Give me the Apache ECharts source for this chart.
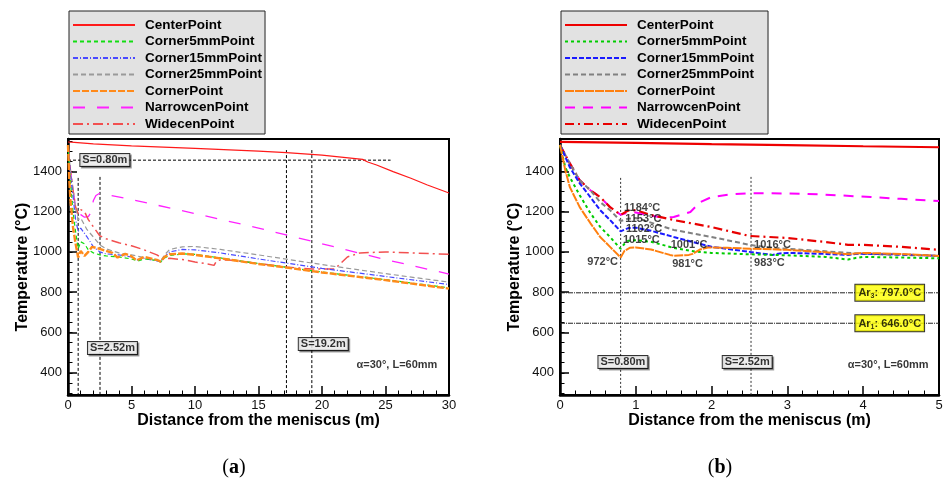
<!DOCTYPE html>
<html><head><meta charset="utf-8">
<script src="https://cdn.jsdelivr.net/npm/echarts@6/dist/echarts.min.js"></script>
<style>
html,body{margin:0;padding:0;background:#fff;}
#wrap{position:relative;width:947px;height:481px;}
.ch{position:absolute;left:0;top:0;width:947px;height:481px;}
</style></head>
<body><div id="wrap"><div id="ca" class="ch"></div><div id="cb" class="ch"></div></div>
<script>
// ---------- DATA: panel (a), 0-30 m ----------
const legendNames = ['CenterPoint','Corner5mmPoint','Corner15mmPoint','Corner25mmPoint','CornerPoint','NarrowcenPoint','WidecenPoint'];
const yTickLabels = [400,600,800,1000,1200,1400];
const yMinorTicks = [300,350,400,450,500,550,600,650,700,750,800,850,900,950,1000,1050,1100,1150,1200,1250,1300,1350,1400,1450,1500,1550];

const aCenterX = [0,0.5,2,5,10,15,17.2,20,23.2,23.6,24.3,25.6,27,28.3,30];
const aCenterY = [1545,1543,1536,1526,1513,1500,1492,1480,1459,1446,1431,1398,1365,1332,1292];
const aC5X = [0,0.1,0.2,0.4,0.6,0.8,1.0,1.3,1.6,2,2.5,3,4,5,5.5,6,7,7.3,7.6,8,9,10,12,15,20,25,30];
const aC5Y = [1530,1420,1340,1195,1100,1015,1050,1040,1010,995,985,980,975,965,955,965,958,950,970,982,990,988,970,942,900,862,822];
const aC15X = [0,0.2,0.4,0.6,0.8,1.0,1.5,2,2.5,3,4,5,5.5,6,7,7.3,7.6,8,9,10,12,15,20,25,30];
const aC15Y = [1530,1380,1272,1160,1102,1118,1074,1025,1000,990,985,975,960,968,955,950,975,1000,1012,1010,995,965,918,878,838];
const aC25X = [0,0.2,0.4,0.6,0.8,1.0,1.5,2,2.5,3,4,5,6,7,7.3,7.6,8,9,10,12,15,20,25,30];
const aC25Y = [1530,1400,1306,1215,1160,1168,1110,1074,1035,1015,995,985,972,960,955,985,1012,1025,1027,1012,985,937,892,850];
const aCornerX = [0,0.1,0.2,0.4,0.6,0.8,0.9,1.0,1.3,1.6,1.9,2.5,3,3.5,3.9,4.5,5,5.4,6,6.5,7,7.3,7.6,8,9,10,12,15,17.2,20,25,30];
const aCornerY = [1530,1360,1250,1120,1040,972,990,1005,980,1000,1025,1015,1005,995,972,990,978,958,975,968,960,952,975,988,992,985,968,940,922,898,860,818];
const aNarrowX = [0,0.2,0.4,0.6,0.8,1.0,1.3,1.6,1.8,2.0,2.2,2.5,5,10,15,20,25,30];
const aNarrowY = [1530,1400,1306,1222,1190,1185,1172,1175,1195,1255,1280,1291,1260,1190,1118,1040,962,890];
const aWideX = [0,0.2,0.4,0.6,0.8,1.0,1.3,1.6,2,2.5,3,4,5,6,7,7.5,8,9,10,11,11.5,11.7,12,13,15,17.2,19.2,21,21.5,22,23,25,27,30];
const aWideY = [1530,1400,1306,1222,1190,1210,1200,1160,1124,1080,1065,1045,1030,1010,985,965,968,962,950,940,933,955,960,958,942,925,915,915,945,975,995,1000,995,988];

const aVLinesX = [0.8, 2.52, 17.2, 19.2];
const aVLinesTop = [1367, 1372, 1505, 1505];
const aHLineY = 1455, aHLineEnd = 25.4;
const aNotes = [[2.9,1456,'S=0.80m'],[3.5,523,'S=2.52m'],[20.1,543,'S=19.2m']];
const aAlpha = [25.9, 439, 'α=30°, L=60mm'];

// ---------- DATA: panel (b), 0-5 m ----------
const bCenterX = [0,1,2,3,4,5];
const bCenterY = [1546,1541,1535,1530,1524,1519];
const bC5X = [0,0.07,0.13,0.26,0.4,0.53,0.66,0.8,0.85,0.9,1.0,1.2,1.5,1.8,2.0,2.5,3,3.5,3.8,3.9,4,4.5,5];
const bC5Y = [1530,1420,1370,1281,1193,1124,1074,1015,1040,1055,1058,1050,1020,1001,995,988,983,975,962,970,975,972,968];
const bC15X = [0,0.13,0.26,0.4,0.53,0.66,0.8,0.9,1.0,1.2,1.5,1.8,2.0,2.5,2.8,2.9,3,3.5,3.8,3.9,4,4.5,5];
const bC15Y = [1530,1420,1340,1272,1207,1158,1102,1118,1120,1105,1074,1044,1025,1000,985,992,995,990,985,990,991,987,980];
const bC25X = [0,0.13,0.26,0.4,0.53,0.66,0.8,0.9,1.0,1.2,1.5,2.0,2.5,2.8,3,3.5,4,4.5,5];
const bC25Y = [1530,1439,1355,1306,1247,1207,1153,1165,1168,1145,1109,1074,1035,1020,1015,1003,990,985,980];
const bCornerX = [0,0.07,0.13,0.26,0.4,0.53,0.66,0.8,0.85,0.92,1.0,1.2,1.45,1.5,1.7,1.75,1.85,1.95,2.2,2.52,3,3.5,3.8,3.9,4,4.5,5];
const bCornerY = [1530,1405,1321,1222,1143,1074,1025,972,1005,1020,1022,1012,985,981,985,990,1012,1022,1020,1016,1010,998,988,992,995,990,980];
const bNarrowX = [0,0.13,0.26,0.4,0.53,0.66,0.8,0.9,1.0,1.2,1.35,1.5,1.72,1.85,2.0,2.27,2.5,3,3.4,4.1,4.5,5];
const bNarrowY = [1530,1439,1355,1306,1272,1222,1184,1195,1195,1180,1170,1173,1198,1247,1272,1286,1291,1290,1286,1272,1263,1252];
const bWideX = [0,0.13,0.26,0.4,0.53,0.66,0.8,0.9,1.0,1.2,1.5,2.0,2.5,3,3.5,3.8,4.0,4.5,5];
const bWideY = [1530,1439,1355,1306,1272,1222,1184,1205,1207,1183,1158,1123,1079,1069,1049,1035,1035,1025,1010];

const bVLinesX = [0.8, 2.52];
const bVLinesTop = [1367, 1372];
const bAr3 = 797.0, bAr1 = 646.0;
const bArLabelX = 4.35;
const bNotes = [[0.83,454,'S=0.80m'],[2.47,454,'S=2.52m']];
const bAlpha = [4.33, 439, 'α=30°, L=60mm'];
// value labels: [x, y, text, align]
const bValLabels = [
  [0.845,1218,'1184°C','left'],[0.86,1163,'1153°C','left'],[0.87,1114,'1102°C','left'],
  [0.83,1059,'1015°C','left'],[0.765,950,'972°C','right'],[1.46,1034,'1001°C','left'],
  [1.48,940,'981°C','left'],[2.56,1034,'1016°C','left'],[2.56,945,'983°C','left']
];

// ---------- helpers ----------
const FF = '"Liberation Sans", Arial, sans-serif';
const zip = (xs, ys) => xs.map((x, i) => [x, ys[i]]);

function lineSeries(name, xs, ys, color, width, type, z) {
  return { name, type: 'line', data: zip(xs, ys), showSymbol: false, symbol: 'none', smooth: false,
    lineStyle: { color, width, type }, itemStyle: { color }, z: z || 2, animation: false };
}
function refLine(data, color, type, width) {
  return { type: 'line', data, showSymbol: false, symbol: 'none', silent: true,
    lineStyle: { color, width: width || 1, type }, z: 1, animation: false };
}
function boxLabels(notes, extra) {
  return { type: 'scatter', symbolSize: 0, silent: true, z: 10, animation: false,
    data: notes.map(n => ({ value: [n[0], n[1]], name: n[2] })),
    label: Object.assign({ show: true, position: 'inside', formatter: p => p.name,
      fontFamily: FF, fontWeight: 'bold', fontSize: 11, color: '#000' }, extra || {}) };
}
function baseOption(gridLeft, gridWidth, xMax, xInt, legendLeft, legendPadRight) {
  return {
    animation: false,
    grid: { left: gridLeft, top: 139, width: gridWidth, height: 256, show: true,
      borderColor: '#000', borderWidth: 2, backgroundColor: 'transparent' },
    legend: { data: legendNames, orient: 'vertical', left: legendLeft, top: 11,
      backgroundColor: '#e2e2e2', borderColor: '#222', borderWidth: 1,
      padding: [7, legendPadRight, 3, 3], itemGap: 2.5, itemWidth: 62, itemHeight: 14,
      itemStyle: { opacity: 0 },
      textStyle: { fontFamily: FF, fontWeight: 'bold', fontSize: 13.5, color: '#000', lineHeight: 14, padding: [0, 0, 0, 5] },
      selectedMode: false },
    xAxis: { type: 'value', min: 0, max: xMax, interval: xInt,
      name: 'Distance from the meniscus (m)', nameLocation: 'middle', nameGap: 18, nameMoveOverlap: false,
      nameTextStyle: { fontFamily: FF, fontWeight: 'bold', fontSize: 16, color: '#000' },
      axisLine: { show: true, onZero: false, lineStyle: { color: '#000', width: 2.5 } },
      axisTick: { show: true, inside: true, length: 9, lineStyle: { color: '#000', width: 1.5 } },
      minorTick: { show: true, splitNumber: 5, length: 4.5, lineStyle: { color: '#000', width: 1 } },
      axisLabel: { fontFamily: FF, fontSize: 13, color: '#111', margin: 4, formatter: v => String(v) },
      splitLine: { show: false } },
    yAxis: [
      { type: 'value', min: 290, max: 1560, position: 'left',
        name: 'Temperature (°C)', nameLocation: 'middle', nameGap: 37, nameRotate: 90, nameMoveOverlap: false,
        nameTextStyle: { fontFamily: FF, fontWeight: 'bold', fontSize: 16, color: '#000' },
        axisLine: { show: true, onZero: false, lineStyle: { color: '#000', width: 2.5 } },
        axisTick: { show: true, inside: true, length: 9, customValues: yTickLabels, lineStyle: { color: '#000', width: 1.5 } },
        axisLabel: { customValues: yTickLabels, fontFamily: FF, fontSize: 13, color: '#111', margin: 6, formatter: v => String(v) },
        splitLine: { show: false } },
      { type: 'value', min: 290, max: 1560, position: 'left', offset: 0,
        axisLine: { show: false }, axisLabel: { show: false }, splitLine: { show: false },
        axisTick: { show: true, inside: true, length: 4.5, customValues: yMinorTicks, lineStyle: { color: '#000', width: 1 } } }
    ],
    series: []
  };
}

// ---------- panel (a) ----------
const optA = baseOption(68, 381, 30, 5, 69, 3);
optA.series = [
  refLine([[0, aHLineY], [aHLineEnd, aHLineY]], '#000', [3, 2], 1),
  ...aVLinesX.map((x, i) => refLine([[x, aVLinesTop[i]], [x, 290]], '#000', [3, 2], 1)),
  lineSeries('CenterPoint', aCenterX, aCenterY, '#ff1a1a', 1.2, 'solid', 3),
  lineSeries('NarrowcenPoint', aNarrowX, aNarrowY, '#ff22ff', 1.3, [12, 12], 3),
  lineSeries('WidecenPoint', aWideX, aWideY, '#f25050', 1.5, [10, 4, 2, 4], 3),
  lineSeries('Corner25mmPoint', aC25X, aC25Y, '#9a9a9a', 1.2, [5, 3], 4),
  lineSeries('Corner15mmPoint', aC15X, aC15Y, '#4a4aff', 1.2, [5, 2, 1, 2], 4),
  lineSeries('Corner5mmPoint', aC5X, aC5Y, '#12dd12', 1.2, [4, 3], 5),
  lineSeries('CornerPoint', aCornerX, aCornerY, '#ff8a1a', 2.4, [7, 2], 6),
  boxLabels(aNotes, { backgroundColor: '#fff', borderColor: '#000', borderWidth: 1, padding: [1, 2, 0, 2],
    shadowColor: 'rgba(0,0,0,0.45)', shadowOffsetX: 1.5, shadowOffsetY: 1.5, shadowBlur: 0 }),
  boxLabels([aAlpha])
];

// ---------- panel (b) ----------
const optB = baseOption(560, 379, 5, 1, 561, 14);
optB.series = [
  refLine([[0, bAr3], [5, bAr3]], '#222', [5, 1, 1, 1], 1),
  refLine([[0, bAr1], [5, bAr1]], '#222', [5, 1, 1, 1], 1),
  ...bVLinesX.map((x, i) => refLine([[x, bVLinesTop[i]], [x, 290]], '#333', [2, 2], 1)),
  lineSeries('CenterPoint', bCenterX, bCenterY, '#ee0000', 2.2, 'solid', 3),
  lineSeries('NarrowcenPoint', bNarrowX, bNarrowY, '#ff00ff', 2, [10, 8], 3),
  lineSeries('WidecenPoint', bWideX, bWideY, '#e80000', 2.2, [9, 4, 2, 4], 4),
  lineSeries('Corner25mmPoint', bC25X, bC25Y, '#808080', 2, [5, 3], 4),
  lineSeries('Corner15mmPoint', bC15X, bC15Y, '#1a1aff', 2, [5, 2], 4),
  lineSeries('Corner5mmPoint', bC5X, bC5Y, '#00cc00', 2, [3, 3], 5),
  lineSeries('CornerPoint', bCornerX, bCornerY, '#ff7f0e', 2, [9, 1], 6),
  boxLabels(bNotes, { backgroundColor: '#fff', borderColor: '#000', borderWidth: 1, padding: [1, 2, 0, 2],
    shadowColor: 'rgba(0,0,0,0.45)', shadowOffsetX: 1.5, shadowOffsetY: 1.5, shadowBlur: 0 }),
  boxLabels([bAlpha]),
  { type: 'scatter', symbolSize: 0, silent: true, z: 10, animation: false,
    data: [{ value: [bArLabelX, bAr3], name: 'Ar{s|3}: 797.0°C' }, { value: [bArLabelX, bAr1], name: 'Ar{s|1}: 646.0°C' }],
    label: { show: true, position: 'inside', formatter: p => p.name, fontFamily: FF, fontWeight: 'bold', fontSize: 11,
      color: '#000', backgroundColor: '#ffff00', borderColor: '#000', borderWidth: 1, padding: [2, 3, 1, 3],
      rich: { s: { fontSize: 7, fontFamily: FF, fontWeight: 'bold', color: '#000', padding: [6, 0, 0, 0] } } } },
  { type: 'scatter', symbolSize: 0, silent: true, z: 10, animation: false,
    data: bValLabels.map(v => ({ value: [v[0], v[1]], name: v[2], label: { align: v[3] } })),
    label: { show: true, position: 'inside', formatter: p => p.name, fontFamily: FF, fontWeight: 'bold', fontSize: 11, color: '#111' } }
];

optA.graphic = [
  { type: 'text', x: 234, y: 468, style: { text: '({b|a})', fill: '#000', font: '20px "Liberation Serif", serif',
      textAlign: 'center', textVerticalAlign: 'middle', rich: { b: { fontWeight: 'bold', fontSize: 20, fontFamily: '"Liberation Serif", serif' } } } },
  { type: 'text', x: 720, y: 468, style: { text: '({b|b})', fill: '#000', font: '20px "Liberation Serif", serif',
      textAlign: 'center', textVerticalAlign: 'middle', rich: { b: { fontWeight: 'bold', fontSize: 20, fontFamily: '"Liberation Serif", serif' } } } }
];

const ca = echarts.init(document.getElementById('ca'), null, { renderer: 'canvas' });
ca.setOption(optA);
const cb = echarts.init(document.getElementById('cb'), null, { renderer: 'canvas' });
cb.setOption(optB);
</script></body></html>
